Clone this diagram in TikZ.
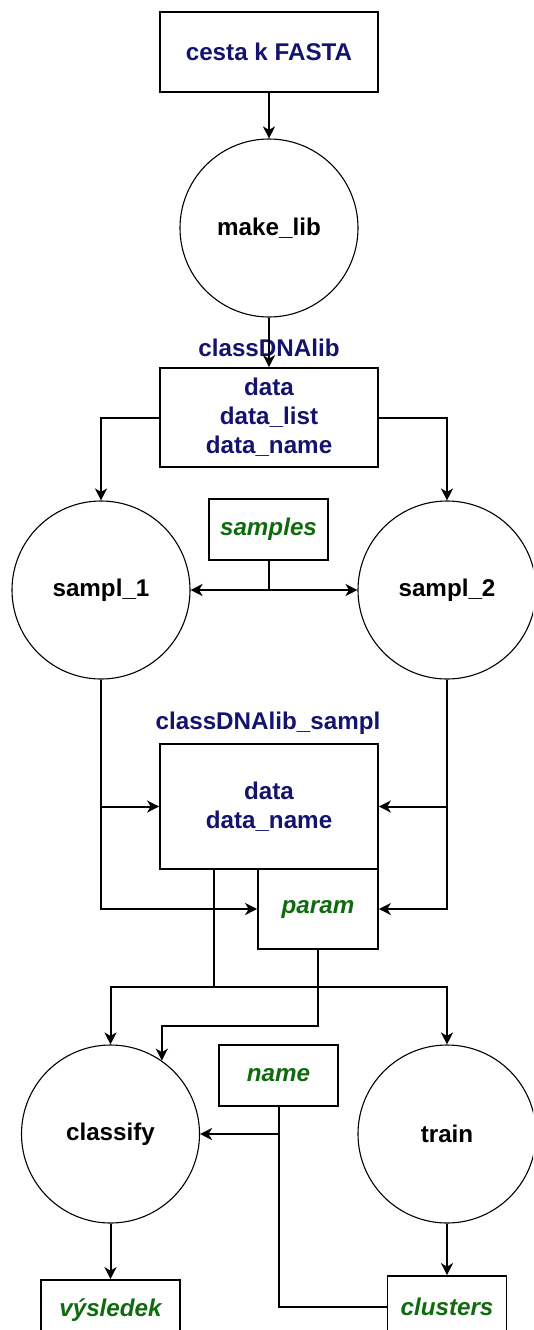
\documentclass[tikz,border=0pt]{standalone}
\usepackage{fontspec}
\setmainfont{Liberation Sans}
\usetikzlibrary{arrows.meta,calc}
\definecolor{navy}{HTML}{14146E}
\definecolor{dgreen}{HTML}{0E6B0E}
\tikzset{
  box/.style={draw=black,line width=1.7pt,rectangle,inner sep=0pt,align=center},
  proc/.style={draw=black,line width=1.1pt,circle,inner sep=0pt,minimum size=178pt,
    font=\fontsize{24.2pt}{29pt}\selectfont\bfseries,text=black},
  navytext/.style={text=navy,font=\fontsize{24.2pt}{29pt}\selectfont\bfseries},
  greentext/.style={text=dgreen,font=\fontsize{24.2pt}{29pt}\selectfont\bfseries\itshape},
  conn/.style={line width=2pt,draw=black},
  arr/.style={conn,-{Stealth[length=12pt,width=12pt,inset=3.5pt]}},
}
\begin{document}
\begin{tikzpicture}[x=1pt,y=-1pt]
\clip (0,0) rectangle (533,1330);
% nodes
\node[box,navytext,minimum width=218pt,minimum height=80pt] (fasta) at (269,52) {cesta k FASTA};
\node[proc] (makelib) at (269,228) {make\_lib};
\node[navytext] (liblabel) at (269,348) {classDNAlib};
\node[box,navytext,minimum width=218pt,minimum height=99pt] (lib) at (269,417.5) {data\\data\_list\\data\_name};
\node[proc] (sampl1) at (101,590) {sampl\_1};
\node[proc] (sampl2) at (447,590) {sampl\_2};
\node[box,greentext,minimum width=119pt,minimum height=61pt] (samples) at (268.5,529.5) {samples};
\node[navytext] (sampllabel) at (268,723) {classDNAlib\_sampl};
\node[box,navytext,minimum width=218pt,minimum height=125pt] (sampl) at (269,806.5) {data\\data\_name};
\node[box,greentext,minimum width=120pt,minimum height=80pt] (param) at (318,909) {param};
\node[proc] (classify) at (110.5,1134) {classify};
\node[proc] (train) at (447,1134) {train};
\node[box,greentext,minimum width=119pt,minimum height=61pt] (name) at (278.5,1075.5) {name};
\node[box,greentext,minimum width=139pt,minimum height=60pt] (vysledek) at (110.5,1310) {výsledek};
\node[box,greentext,minimum width=119pt,minimum height=61pt] (clusters) at (447,1306.5) {clusters};
% connectors
\draw[arr] (fasta.south) -- (makelib.north);
\draw[arr] (makelib.south) -- (lib.north);
\draw[arr] (lib.west) -| (sampl1.north);
\draw[arr] (lib.east) -| (sampl2.north);
\draw[arr] (samples.south) |- (sampl1.east);
\draw[arr] (samples.south) |- (sampl2.west);
\draw[arr] (sampl1.south) |- (param.west);
\draw[arr] (sampl1.south |- sampl.west) -- (sampl.west);
\draw[arr] (sampl2.south) |- (param.east);
\draw[arr] (sampl2.south |- sampl.east) -- (sampl.east);
\coordinate (sb) at ($(sampl.south west)!0.25!(sampl.south east)$);
\coordinate (j) at ($(sb)+(0,117)$);
\draw[conn] (sb) -- (j);
\draw[arr] (j) -| (classify.north);
\draw[arr] (j) -| (train.north);
\draw[arr] (param.south) -- ++(0,76) -| (classify.55.8);
\draw[arr] (name.south) |- (classify.east);
\draw[conn] (clusters.west) -| (name.south |- classify.east);
\draw[arr] (classify.south) -- (vysledek.north);
\draw[arr] (train.south) -- (clusters.north);
\end{tikzpicture}
\end{document}
